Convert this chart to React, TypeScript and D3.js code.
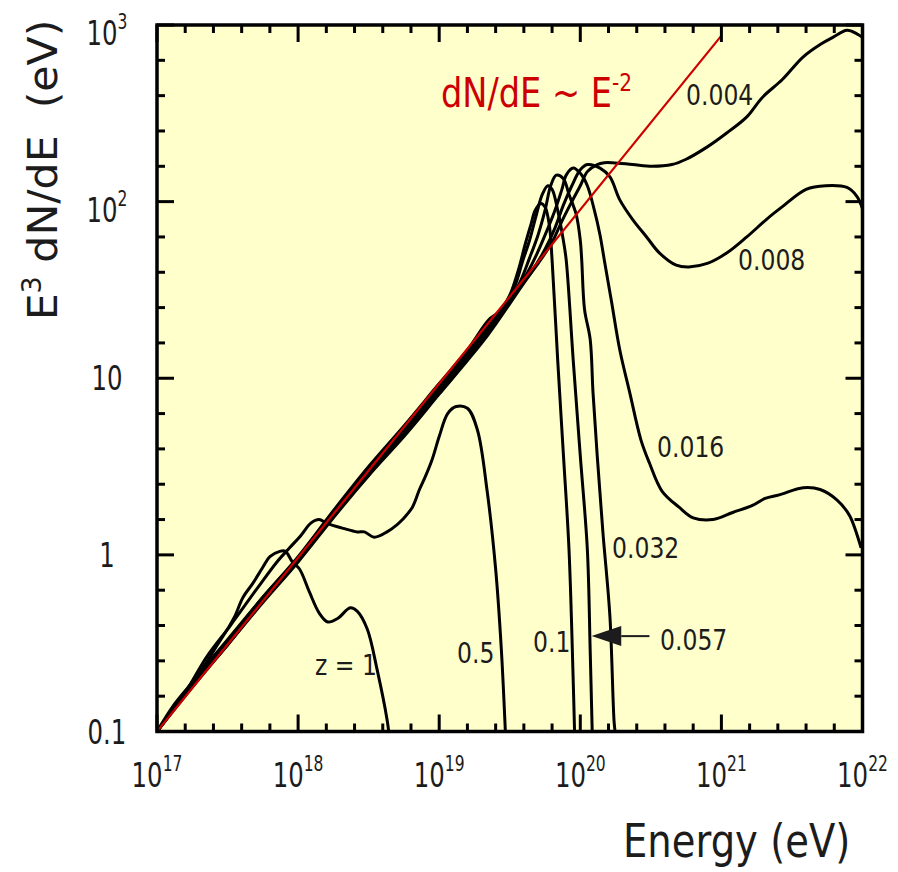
import React from "react";
import * as d3 from "d3";

// All pairs: [log10(E / eV), log10(E^3 dN/dE / eV)].
const powerLawE2: [number, number][] = [
  [17.0, -1.0],
  [21.0, 2.94],
];

const curveZ1: [number, number][] = [
  [17.0, -1.0], [17.11, -0.86], [17.25, -0.72], [17.35, -0.61], [17.42, -0.52],
  [17.5, -0.42], [17.55, -0.35], [17.61, -0.24], [17.68, -0.16], [17.75, -0.07],
  [17.8, -0.01], [17.87, 0.02], [17.91, 0.02], [17.96, -0.04], [18.01, -0.08],
  [18.08, -0.21], [18.15, -0.33], [18.21, -0.38], [18.28, -0.36], [18.37, -0.3],
  [18.42, -0.32], [18.49, -0.42], [18.56, -0.65], [18.63, -0.93], [18.645, -1.02],
];

const curveZ05: [number, number][] = [
  [17.0, -1.0], [17.2, -0.78], [17.35, -0.58], [17.52, -0.4], [17.71, -0.19],
  [17.85, -0.04], [17.94, 0.04], [18.02, 0.11], [18.09, 0.18], [18.15, 0.2],
  [18.2, 0.18], [18.32, 0.15], [18.42, 0.13], [18.47, 0.13], [18.54, 0.1],
  [18.63, 0.13], [18.7, 0.17], [18.74, 0.2], [18.81, 0.27], [18.86, 0.37],
  [18.9, 0.44], [18.95, 0.54], [19.0, 0.67], [19.06, 0.8], [19.12, 0.84],
  [19.2, 0.83], [19.27, 0.71], [19.34, 0.36], [19.4, -0.08], [19.44, -0.53],
  [19.47, -1.02],
];

const curveZ01: [number, number][] = [
  [17.0, -1.0], [17.25, -0.72], [17.5, -0.48], [17.75, -0.24], [18.0, -0.01],
  [18.25, 0.25], [18.5, 0.5], [18.75, 0.73], [19.0, 0.97], [19.2, 1.16],
  [19.35, 1.33], [19.43, 1.38], [19.5, 1.47], [19.56, 1.61], [19.61, 1.76],
  [19.65, 1.87], [19.68, 1.95], [19.72, 1.99], [19.75, 1.97], [19.78, 1.87],
  [19.8, 1.67], [19.84, 1.1], [19.88, 0.57], [19.92, 0.03], [19.95, -0.72],
  [19.96, -1.02],
];

const curveZ0057: [number, number][] = [
  [17.0, -1.0], [17.25, -0.73], [17.5, -0.49], [17.75, -0.24], [18.0, -0.02],
  [18.25, 0.24], [18.5, 0.48], [18.75, 0.71], [19.0, 0.95], [19.2, 1.14],
  [19.35, 1.3], [19.46, 1.41], [19.54, 1.53], [19.59, 1.66], [19.64, 1.78],
  [19.69, 1.93], [19.73, 2.04], [19.77, 2.09], [19.8, 2.07], [19.84, 1.95],
  [19.88, 1.78], [19.9, 1.67], [19.95, 1.1], [20.0, 0.56], [20.05, 0.03],
  [20.07, -0.54], [20.085, -1.02],
];

const curveZ0032: [number, number][] = [
  [17.0, -1.0], [17.25, -0.73], [17.5, -0.5], [17.75, -0.25], [18.0, -0.02],
  [18.25, 0.23], [18.5, 0.47], [18.75, 0.7], [19.0, 0.94], [19.2, 1.13],
  [19.35, 1.29], [19.5, 1.45], [19.57, 1.54], [19.64, 1.68], [19.7, 1.81],
  [19.75, 1.95], [19.79, 2.09], [19.83, 2.15], [19.88, 2.13], [19.92, 2.04],
  [19.97, 1.93], [20.0, 1.78], [20.01, 1.67], [20.03, 1.39], [20.07, 1.22],
  [20.09, 0.92], [20.12, 0.56], [20.16, 0.13], [20.21, -0.35], [20.24, -0.95],
  [20.25, -1.02],
];

const curveZ0016: [number, number][] = [
  [17.0, -1.0], [17.25, -0.74], [17.5, -0.5], [17.75, -0.26], [18.0, -0.03],
  [18.25, 0.22], [18.5, 0.46], [18.75, 0.69], [19.0, 0.93], [19.2, 1.12],
  [19.35, 1.27], [19.54, 1.49], [19.62, 1.59], [19.69, 1.7], [19.75, 1.81],
  [19.82, 1.95], [19.87, 2.07], [19.9, 2.15], [19.95, 2.19], [20.0, 2.16],
  [20.05, 2.09], [20.1, 1.95], [20.14, 1.81], [20.17, 1.67], [20.22, 1.44],
  [20.28, 1.16], [20.35, 0.92], [20.43, 0.65], [20.49, 0.52], [20.58, 0.36],
  [20.7, 0.27], [20.8, 0.21], [20.94, 0.2], [21.08, 0.24], [21.22, 0.28],
  [21.31, 0.32], [21.41, 0.34], [21.58, 0.38], [21.7, 0.37], [21.82, 0.31],
  [21.91, 0.22], [21.99, 0.04],
];

const curveZ0008: [number, number][] = [
  [17.0, -1.0], [17.25, -0.74], [17.5, -0.51], [17.75, -0.26], [18.0, -0.03],
  [18.25, 0.22], [18.5, 0.45], [18.75, 0.68], [19.0, 0.92], [19.2, 1.11],
  [19.35, 1.26], [19.57, 1.51], [19.66, 1.61], [19.75, 1.73], [19.82, 1.85],
  [19.88, 1.98], [19.94, 2.09], [20.0, 2.18], [20.05, 2.21], [20.14, 2.19],
  [20.21, 2.14], [20.28, 2.01], [20.37, 1.9], [20.47, 1.8], [20.56, 1.71],
  [20.68, 1.64], [20.77, 1.63], [20.9, 1.65], [21.04, 1.71], [21.18, 1.8],
  [21.32, 1.9], [21.43, 1.97], [21.6, 2.07], [21.74, 2.09], [21.89, 2.08],
  [21.96, 2.03], [22.0, 1.96],
];

const curveZ0004: [number, number][] = [
  [17.0, -1.0], [17.25, -0.75], [17.5, -0.51], [17.75, -0.27], [18.0, -0.04],
  [18.25, 0.21], [18.5, 0.45], [18.75, 0.67], [19.0, 0.91], [19.2, 1.1],
  [19.35, 1.25], [19.61, 1.55], [19.71, 1.66], [19.8, 1.77], [19.87, 1.89],
  [19.94, 2.0], [20.0, 2.09], [20.05, 2.17], [20.12, 2.21], [20.17, 2.22],
  [20.23, 2.22], [20.37, 2.21], [20.51, 2.2], [20.65, 2.21], [20.75, 2.24],
  [20.9, 2.31], [21.04, 2.39], [21.18, 2.48], [21.29, 2.59], [21.43, 2.69],
  [21.58, 2.82], [21.7, 2.89], [21.79, 2.93], [21.89, 2.97], [21.96, 2.95],
  [22.0, 2.93],
];

const curveLabels = ["z = 1", "0.5", "0.1", "0.057", "0.032", "0.016", "0.008", "0.004"];
const xTickExponents = ["17", "18", "19", "20", "21", "22"];
const yTickValues = [1000, 100, 10, 1, 0.1];
const yTickText = [["10", "3"], ["10", "2"], ["10", ""], ["1", ""], ["0.1", ""]];

const series = [
  { label: curveLabels[0], data: curveZ1 },
  { label: curveLabels[1], data: curveZ05 },
  { label: curveLabels[2], data: curveZ01 },
  { label: curveLabels[3], data: curveZ0057 },
  { label: curveLabels[4], data: curveZ0032 },
  { label: curveLabels[5], data: curveZ0016 },
  { label: curveLabels[6], data: curveZ0008 },
  { label: curveLabels[7], data: curveZ0004 },
];

// label placement (pixels): left x, baseline y
const labelPos: Record<string, [number, number]> = {
  "z = 1": [315, 675],
  "0.5": [457, 663],
  "0.1": [533, 652],
  "0.057": [660, 650],
  "0.032": [612, 558],
  "0.016": [657, 457],
  "0.008": [738, 270],
  "0.004": [686, 105],
};

const FONT = "'DejaVu Sans', 'Open Sans', sans-serif";
const INK = "#1c1c1c";
const RED = "#cc0000";

export default function App() {
  const L = 157, R = 862.5, T = 25, B = 731.5;
  const x = d3.scaleLog().domain([1e17, 1e22]).range([L, R]);
  const y = d3.scaleLog().domain([0.1, 1000]).range([B, T]);
  const line = d3
    .line<[number, number]>()
    .x((d) => x(Math.pow(10, d[0])))
    .y((d) => y(Math.pow(10, d[1])))
    .curve(d3.curveCatmullRom.alpha(0.5));

  const xTicks: { v: number; major: boolean }[] = [];
  for (let i = 0; i <= 25; i++) xTicks.push({ v: Math.pow(10, 17 + i / 5), major: i % 5 === 0 });
  const yTicks: { v: number; major: boolean }[] = [];
  for (let i = 0; i <= 20; i++) yTicks.push({ v: Math.pow(10, -1 + i / 5), major: i % 5 === 0 });
  const MAJ = 17, MIN = 8;

  // arrow toward the 0.057 curve (data coordinates)
  const arrowTip = [x(Math.pow(10, 20.08)), y(Math.pow(10, -0.46))];
  const arrowBase = x(Math.pow(10, 20.29));
  const arrowTail = x(Math.pow(10, 20.49));

  return (
    <svg width={898} height={872} style={{ position: "absolute", left: 0, top: 0, background: "#fff" }}>
      <defs>
        <clipPath id="plotClip">
          <rect x={L} y={T} width={R - L} height={B - T} />
        </clipPath>
      </defs>
      <rect x={L} y={T} width={R - L} height={B - T} fill="#ffffcc" />
      <g clipPath="url(#plotClip)">
        {series.map((s) => (
          <path key={s.label} d={line(s.data) || ""} fill="none" stroke="#000" strokeWidth={3} strokeLinejoin="round" />
        ))}
        <path d={line(powerLawE2) || ""} fill="none" stroke={RED} strokeWidth={2.2} />
      </g>
      {/* ticks */}
      {xTicks.map((t, i) => {
        const len = t.major ? MAJ : MIN;
        return (
          <g key={"xt" + i} stroke="#000" strokeWidth={3}>
            <line x1={x(t.v)} x2={x(t.v)} y1={B} y2={B - len} />
            <line x1={x(t.v)} x2={x(t.v)} y1={T} y2={T + len} />
          </g>
        );
      })}
      {yTicks.map((t, i) => {
        const len = t.major ? MAJ : MIN;
        return (
          <g key={"yt" + i} stroke="#000" strokeWidth={3}>
            <line x1={L} x2={L + len} y1={y(t.v)} y2={y(t.v)} />
            <line x1={R} x2={R - len} y1={y(t.v)} y2={y(t.v)} />
          </g>
        );
      })}
      <rect x={L} y={T} width={R - L} height={B - T} fill="none" stroke="#000" strokeWidth={3.5} />

      {/* x tick labels */}
      {xTickExponents.map((e) => (
        <text
          key={"xl" + e}
          transform={`translate(${x(Math.pow(10, +e))},787) scale(0.74,1)`}
          textAnchor="middle"
          fontFamily={FONT}
          fontSize={33}
          fill={INK}
        >
          10
          <tspan dy={-16} fontSize={21}>
            {e}
          </tspan>
        </text>
      ))}
      {/* y tick labels */}
      {yTickValues.map((v, i) => {
        const [base, sup] = yTickText[i];
        const by = y(v) + (sup ? 20 : 12);
        return (
          <text
            key={"yl" + i}
            transform={`translate(107,${by}) scale(0.74,1)`}
            textAnchor="middle"
            fontFamily={FONT}
            fontSize={33}
            fill={INK}
          >
            {base}
            {sup ? (
              <tspan dy={-16} fontSize={21}>
                {sup}
              </tspan>
            ) : null}
          </text>
        );
      })}

      {/* axis titles */}
      <text transform="translate(623,857) scale(0.82,1)" fontFamily={FONT} fontSize={47} fill={INK}>
        Energy (eV)
      </text>
      <text transform="translate(57,170) rotate(-90) scale(1.04,1)" textAnchor="middle" fontFamily={FONT} fontSize={41} fill={INK}>
        E
        <tspan dy={-16} fontSize={26}>3</tspan>
        <tspan dy={16}>{"\u00a0dN/dE\u00a0\u00a0(eV)"}</tspan>
      </text>

      {/* power-law annotation */}
      <text transform="translate(441,107) scale(0.84,1)" fontFamily={FONT} fontSize={40} fill={RED}>
        {"dN/dE ~ E"}
        <tspan dy={-16} fontSize={24}>-2</tspan>
      </text>

      {/* curve labels */}
      {series.map((s) => {
        const [lx, ly] = labelPos[s.label];
        return (
          <text key={"lab" + s.label} transform={`translate(${lx},${ly}) scale(0.84,1)`} fontFamily={FONT} fontSize={28} fill={INK}>
            {s.label}
          </text>
        );
      })}

      {/* arrow */}
      <line x1={arrowBase} x2={arrowTail} y1={arrowTip[1]} y2={arrowTip[1]} stroke={INK} strokeWidth={2} />
      <path
        d={`M${arrowTip[0]},${arrowTip[1]} L${arrowBase},${arrowTip[1] - 10} L${arrowBase},${arrowTip[1] + 10} Z`}
        fill={INK}
      />
    </svg>
  );
}
